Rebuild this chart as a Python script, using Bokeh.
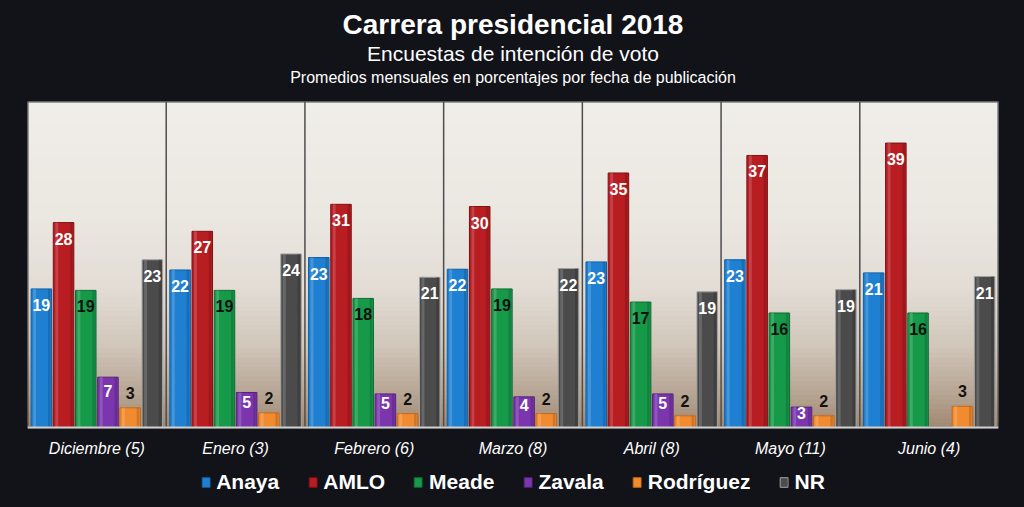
import math
from bokeh.plotting import figure
from bokeh.models import (ColumnDataSource, Range1d, FactorRange, Span, Legend,
                          LegendItem, Title, GlobalInlineStyleSheet)
from bokeh.transform import dodge
from bokeh.core.properties import value
from bokeh.embed import file_html
from bokeh.resources import INLINE

# ---------------- data ----------------
months = ["Diciembre (5)", "Enero (3)", "Febrero (6)", "Marzo (8)",
          "Abril (8)", "Mayo (11)", "Junio (4)"]
candidates = ["Anaya", "AMLO", "Meade", "Zavala", "Rodríguez", "NR"]
anaya = [19.0, 21.6, 23.3, 21.7, 22.7, 23.0, 21.2]
amlo = [28.1, 26.9, 30.6, 30.3, 34.9, 37.3, 39.0]
meade = [18.8, 18.8, 17.7, 19.0, 17.2, 15.7, 15.7]
zavala = [6.9, 4.8, 4.6, 4.2, 4.6, 2.8, float("nan")]
rodriguez = [2.7, 2.0, 1.9, 1.9, 1.6, 1.6, 2.9]
nr = [23.0, 23.8, 20.6, 21.8, 18.6, 18.9, 20.7]

title_text = "Carrera presidencial 2018"
subtitle_text = "Encuestas de intención de voto"
note_text = "Promedios mensuales en porcentajes por fecha de publicación"

series = [anaya, amlo, meade, zavala, rodriguez, nr]

# ---------------- style ----------------
FONT = "Liberation Sans"
BG = "#121219"
fills = ["#1f80d2", "#b81d22", "#17994a", "#7b36ae", "#f28b2f", "#4b4b4b"]
lines = ["#115ea3", "#7e1115", "#0d6b32", "#55227d", "#c4681b", "#a3a3a3"]
label_colors = ["white", "white", "#111111", "white", "#111111", "white"]
label_mode = ["in", "in", "in", "zav", "above", "in"]

def shade(hexcol, f):
    c = [int(hexcol[i:i + 2], 16) for i in (1, 3, 5)]
    if f >= 0:
        c = [v + (255 - v) * f for v in c]
    else:
        c = [v * (1 + f) for v in c]
    return "#%02x%02x%02x" % tuple(int(round(v)) for v in c)

YMAX = 44.7                 # top of the plot area (percent)
PLOT_PX = 326               # plot area height in pixels
BOTTOM_PX = 80              # space below the baseline for month names and legend
px = YMAX / PLOT_PX         # data units per pixel
YMIN = -BOTTOM_PX * px

p = figure(x_range=FactorRange(*months), y_range=Range1d(YMIN, YMAX),
           width=1024, height=507, output_backend="svg", toolbar_location=None,
           x_axis_location=None, y_axis_location=None, title=title_text,
           min_border_left=27, min_border_right=26,
           min_border_top=101, min_border_bottom=0)
p.stylesheets = [GlobalInlineStyleSheet(css="html, body { background-color: %s; }" % BG)]
p.background_fill_color = BG
p.border_fill_color = BG
p.outline_line_color = None
p.xgrid.visible = False
p.ygrid.visible = False

# gradient background of plot area (styling only)
stops = [(0.0, (160, 136, 113)), (0.10, (182, 164, 146)), (0.25, (208, 198, 186)),
         (0.42, (226, 220, 212)), (0.65, (235, 231, 225)), (1.0, (240, 238, 233))]
def interp(f):
    for (f0, c0), (f1, c1) in zip(stops[:-1], stops[1:]):
        if f0 <= f <= f1:
            t = (f - f0) / (f1 - f0)
            return "#%02x%02x%02x" % tuple(int(round(a + (b - a) * t)) for a, b in zip(c0, c1))
    return "#%02x%02x%02x" % stops[-1][1]
N = 70
band = YMAX / N
bots = [band * k for k in range(N)]
tops = [min(YMAX, band * (k + 2)) for k in range(N)]
cols = [interp((k + 0.5) / N) for k in range(N)]
p.quad(left=0, right=len(months), bottom=bots, top=tops, fill_color=cols, line_color=None)

# plot-area outline and group separators
p.quad(left=0, right=len(months), bottom=0, top=YMAX, fill_color=None,
       line_color="#4a4a4a", line_width=2)
seps = list(range(1, len(months)))
p.segment(x0=seps, x1=seps, y0=[0] * len(seps), y1=[YMAX] * len(seps),
          line_color="#4e4e4e", line_width=1.5)

# bars
data = {"month": months}
for name, vals in zip(candidates, series):
    data[name] = vals
src = ColumnDataSource(data)

width = 0.148
step = 0.16
renderers = []
for i, name in enumerate(candidates):
    off = (i - 2.5) * step
    r = p.vbar(x=dodge("month", off, range=p.x_range), top=name, width=width,
               source=src, fill_color=fills[i], line_color=lines[i], line_width=1)
    renderers.append(r)
    # bevel: light strip on the left, dark strip on the right
    p.vbar(x=dodge("month", off - width * 0.33, range=p.x_range), top=name,
           width=width * 0.14, source=src, fill_color=shade(fills[i], 0.3),
           fill_alpha=0.55, line_color=None)
    p.vbar(x=dodge("month", off + width * 0.38, range=p.x_range), top=name,
           width=width * 0.12, source=src, fill_color=shade(fills[i], -0.3),
           fill_alpha=0.5, line_color=None)
    xs, ys, ts = [], [], []
    for m, v in zip(months, series[i]):
        if v is None or (isinstance(v, float) and math.isnan(v)):
            continue
        if label_mode[i] == "above":
            ly = v + 15 * px
        elif label_mode[i] == "zav":
            ly = max(v - 17 * px, v * 0.72)
        else:
            ly = v - 16 * px
        xs.append(m); ys.append(ly); ts.append(str(int(math.floor(v + 0.5))))
    lsrc = ColumnDataSource({"month": xs, "ly": ys, "txt": ts})
    p.text(x=dodge("month", off, range=p.x_range), y="ly", text="txt", source=lsrc,
           text_align="center", text_baseline="middle", text_font=value(FONT),
           text_font_style="bold", text_font_size="16px", text_color=label_colors[i])

# baseline
p.add_layout(Span(location=0, dimension="width", line_color="#cfcfcf", line_width=2))

# month names under the baseline
msrc = ColumnDataSource({"month": months, "y": [-21 * px] * len(months)})
p.text(x="month", y="y", text="month", source=msrc, text_align="center",
       text_baseline="middle", text_font=value(FONT), text_font_style="italic",
       text_font_size="16px", text_color="white")

# legend at the bottom
legend = Legend(items=[LegendItem(label=n, renderers=[r]) for n, r in zip(candidates, renderers)],
                orientation="horizontal", location="bottom_center",
                label_text_font=FONT, label_text_font_size="21px",
                label_text_font_style="bold", label_text_color="white",
                glyph_width=10, glyph_height=12, label_standoff=6, spacing=28,
                padding=0, margin=13, background_fill_alpha=0, border_line_alpha=0)
p.add_layout(legend)

# titles: main title is p.title (outermost); added ones stack from the frame outward
p.title.align = "center"
p.title.text_color = "white"
p.title.text_font = FONT
p.title.text_font_style = "bold"
p.title.text_font_size = "28px"
p.title.standoff = 0
p.add_layout(Title(text=" ", align="center", text_color=BG, text_font=FONT,
                   text_font_size="10px", standoff=0), "above")
p.add_layout(Title(text=note_text, align="center", text_color="white",
                   text_font=FONT, text_font_style="normal", text_font_size="16px",
                   standoff=5), "above")
p.add_layout(Title(text=subtitle_text, align="center", text_color="white",
                   text_font=FONT, text_font_style="normal", text_font_size="21px",
                   standoff=0), "above")

open("out.html", "w").write(file_html(p, INLINE))
